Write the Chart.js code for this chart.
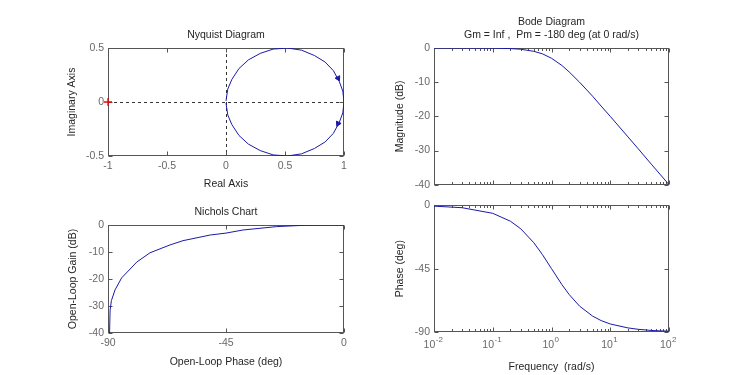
<!DOCTYPE html>
<html>
<head>
<meta charset="utf-8">
<script src="https://cdn.jsdelivr.net/npm/chart.js@4.4.0/dist/chart.umd.min.js"></script>
<style>
  body { margin: 0; background: #fff; width: 740px; height: 375px; position: relative; overflow: hidden; }
  canvas { position: absolute; }
</style>
</head>
<body>
<canvas id="nyquist" width="452" height="195" style="left:0;top:0"></canvas>
<canvas id="nichols" width="452" height="180" style="left:0;top:195px"></canvas>
<canvas id="bodeMag" width="359" height="195" style="left:372px;top:0"></canvas>
<canvas id="bodePhase" width="359" height="180" style="left:372px;top:195px"></canvas>
<script>
// Nyquist, positive frequencies (lower half) and mirror branch (upper half)
const nyqPosRe = [1.00, 0.99, 0.96, 0.91, 0.84, 0.75, 0.64, 0.52, 0.40, 0.29, 0.19, 0.11, 0.05, 0.015, 0.00];
const nyqPosIm = [0.00, -0.10, -0.19, -0.29, -0.37, -0.43, -0.48, -0.50, -0.49, -0.45, -0.39, -0.31, -0.21, -0.12, -0.01];
const nyqNegRe = [0.00, 0.015, 0.05, 0.11, 0.19, 0.29, 0.40, 0.52, 0.64, 0.75, 0.84, 0.91, 0.96, 0.99, 1.00];
const nyqNegIm = [0.01, 0.12, 0.21, 0.31, 0.39, 0.45, 0.49, 0.50, 0.48, 0.43, 0.37, 0.29, 0.19, 0.10, 0.00];
const nyqArrowRe = [0.95, 0.95];
const nyqArrowIm = [0.22, -0.20];
const nyqArrowDir = [152, 206];
const critRe = [-1];
const critIm = [0];
const nyqXTicks = [-1, -0.5, 0, 0.5, 1];
const nyqYTicks = [-0.5, 0, 0.5];

// Nichols (phase deg, gain dB)
const nicPhase = [-89.4, -89.2, -88.7, -87.3, -84.8, -79, -74, -66.4, -61.4, -51, -45, -38.5, -25.7, -15, -8, 0];
const nicGain = [-40, -31.5, -28, -24, -19.6, -13.7, -10.3, -7.4, -5.8, -3.7, -3, -1.85, -0.6, -0.1, 0, 0];
const nicXTicks = [-90, -45, 0];
const nicYTicks = [-40, -30, -20, -10, 0];

// Bode
const freq = [0.01, 0.03, 0.1, 0.2, 0.3, 0.5, 0.7, 1, 1.5, 2, 3, 5, 7, 10, 20, 30, 50, 70, 100];
const magDb = [0, -0.004, -0.04, -0.17, -0.37, -0.97, -1.7, -3.0, -5.1, -7.0, -10.0, -14.1, -17.0, -20.0, -26.0, -29.5, -34.0, -36.9, -40.0];
const phaseDeg = [-0.6, -1.7, -5.7, -11.3, -16.7, -26.6, -35.0, -45.0, -56.3, -63.4, -71.6, -78.7, -81.9, -84.3, -87.1, -88.1, -88.9, -89.2, -89.4];
const magTicks = [-40, -30, -20, -10, 0];
const phaseTicks = [-90, -45, 0];
const freqExps = [-2, -1, 0, 1, 2];

const FONT = "'Liberation Sans', Arial, Helvetica, sans-serif";
const tickColor = '#686868';
const textColor = '#262626';
const axisColor = '#555555';
const curveColor = '#1a1aa8';

const pts = (xs, ys) => xs.map((v, i) => ({x: v, y: ys[i]}));

// box round the axes, inward ticks on all four sides, zero lines and 10^n labels
const frame = {
  id: 'frame',
  beforeDatasetsDraw(chart, args, opts) {
    const {ctx, chartArea: a, scales: {x, y}} = chart;
    ctx.save();
    ctx.lineWidth = 1;
    if (opts.zeroLines) {
      const px = Math.round(x.getPixelForValue(0)) + 0.5;
      const py = Math.round(y.getPixelForValue(0)) + 0.5;
      ctx.strokeStyle = '#333';
      ctx.setLineDash([3, 3]);
      ctx.beginPath();
      ctx.moveTo(a.left, py); ctx.lineTo(a.right, py);
      ctx.moveTo(px, a.top); ctx.lineTo(px, a.bottom);
      ctx.stroke();
      ctx.setLineDash([]);
    }
    const l = Math.round(a.left) + 0.5, r = Math.round(a.right) - 0.5;
    const t = Math.round(a.top) + 0.5, b = Math.round(a.bottom) - 0.5;
    ctx.strokeStyle = axisColor;
    ctx.strokeRect(l, t, r - l, b - t);
    ctx.beginPath();
    x.ticks.forEach(tk => {
      let len = 4;
      if (x.type === 'logarithmic') {
        const e = Math.floor(Math.log10(tk.value) + 1e-9);
        const m = tk.value / Math.pow(10, e);
        if (Math.abs(m - Math.round(m)) > 1e-6) return;
        len = Math.round(m) === 1 ? 4 : 2.5;
      }
      const p = Math.round(x.getPixelForValue(tk.value)) + 0.5;
      ctx.moveTo(p, b); ctx.lineTo(p, b - len);
      ctx.moveTo(p, t); ctx.lineTo(p, t + len);
    });
    y.ticks.forEach(tk => {
      const p = Math.round(y.getPixelForValue(tk.value)) + 0.5;
      ctx.moveTo(l, p); ctx.lineTo(l + 4, p);
      ctx.moveTo(r, p); ctx.lineTo(r - 4, p);
    });
    ctx.stroke();
    if (opts.powerLabels) {
      ctx.fillStyle = tickColor;
      ctx.textBaseline = 'alphabetic';
      ctx.textAlign = 'left';
      opts.powerLabels.forEach(e => {
        const p = x.getPixelForValue(Math.pow(10, e));
        ctx.font = '10.5px ' + FONT;
        const w1 = ctx.measureText('10').width;
        ctx.font = '8px ' + FONT;
        const w2 = ctx.measureText(String(e)).width;
        const s = p - (w1 + w2) / 2 - 1;
        ctx.font = '10.5px ' + FONT;
        ctx.fillText('10', s, a.bottom + 16);
        ctx.font = '8px ' + FONT;
        ctx.fillText(String(e), s + w1 + 0.5, a.bottom + 10);
      });
    }
    ctx.restore();
  }
};

function linAxis(pos, min, max, ticks, size, title, titlePad, showLabels) {
  return {
    type: 'linear', position: pos, min: min, max: max,
    afterBuildTicks: s => { s.ticks = ticks.map(v => ({value: v})); },
    afterFit: s => { if (pos === 'left') s.width = size; else s.height = size; },
    grid: {display: false, drawTicks: false},
    border: {display: false},
    ticks: {
      display: showLabels !== false, autoSkip: false, maxRotation: 0, padding: 4,
      color: tickColor, font: {family: FONT, size: 10.5}, callback: v => String(v)
    },
    title: {display: !!title, text: title, color: textColor, font: {family: FONT, size: 10.5}, padding: titlePad || 0}
  };
}

function logAxis(size, title, titlePad) {
  return {
    type: 'logarithmic', position: 'bottom', min: 0.01, max: 100,
    afterFit: s => { s.height = size; },
    grid: {display: false, drawTicks: false},
    border: {display: false},
    ticks: {display: false},
    title: {display: !!title, text: title, color: textColor, font: {family: FONT, size: 10.5}, padding: titlePad || 0}
  };
}

// empty right-hand axis that only reserves room, so the title stays centred on the plot
function spacer(w) {
  return {
    type: 'linear', position: 'right', display: true,
    afterFit: s => { s.width = w; },
    grid: {display: false, drawTicks: false},
    border: {display: false},
    ticks: {display: false}
  };
}

function titleOpts(text, top, bottom, lh) {
  return {display: true, text: text, color: textColor,
    font: {family: FONT, size: 10.5, weight: 'normal', lineHeight: lh || 1.2},
    padding: {top: top, bottom: bottom}};
}

const common = {
  responsive: false, animation: false, devicePixelRatio: 1, events: []
};

new Chart(document.getElementById('nyquist'), {
  type: 'scatter',
  data: {datasets: [
    {data: pts(nyqPosRe, nyqPosIm), showLine: true, borderColor: curveColor, borderWidth: 1, pointRadius: 0},
    {data: pts(nyqNegRe, nyqNegIm), showLine: true, borderColor: curveColor, borderWidth: 1, pointRadius: 0},
    {data: pts(nyqArrowRe, nyqArrowIm), pointStyle: 'triangle', pointRotation: nyqArrowDir, pointRadius: 3,
      backgroundColor: curveColor, borderColor: curveColor, borderWidth: 1},
    {data: pts(critRe, critIm), pointStyle: 'cross', pointRadius: 4, borderColor: '#ee0000', borderWidth: 1.3, clip: false}
  ]},
  options: Object.assign({}, common, {
    layout: {padding: 0},
    plugins: {legend: {display: false}, tooltip: {enabled: false},
      title: titleOpts('Nyquist Diagram', 29, 6.4), frame: {zeroLines: true}},
    scales: {
      x: linAxis('bottom', -1, 1, nyqXTicks, 39, 'Real Axis', {bottom: 4.7}),
      y: linAxis('left', -0.5, 0.5, nyqYTicks, 108, 'Imaginary Axis', {top: 65.7}),
      pad: spacer(108)
    }
  }),
  plugins: [frame]
});

new Chart(document.getElementById('nichols'), {
  type: 'scatter',
  data: {datasets: [
    {data: pts(nicPhase, nicGain), showLine: true, borderColor: curveColor, borderWidth: 1, pointRadius: 0}
  ]},
  options: Object.assign({}, common, {
    layout: {padding: 0},
    plugins: {legend: {display: false}, tooltip: {enabled: false},
      title: titleOpts('Nichols Chart', 11, 6.4), frame: {}},
    scales: {
      x: linAxis('bottom', -90, 0, nicXTicks, 42, 'Open-Loop Phase (deg)', {bottom: 6.7}),
      y: linAxis('left', -40, 0, nicYTicks, 108, 'Open-Loop Gain (dB)', {top: 66.7}),
      pad: spacer(108)
    }
  }),
  plugins: [frame]
});

new Chart(document.getElementById('bodeMag'), {
  type: 'scatter',
  data: {datasets: [
    {data: pts(freq, magDb), showLine: true, borderColor: curveColor, borderWidth: 1, pointRadius: 0}
  ]},
  options: Object.assign({}, common, {
    layout: {padding: {left: 0, right: 0, bottom: 3, top: 0}},
    plugins: {legend: {display: false}, tooltip: {enabled: false},
      title: titleOpts(['Bode Diagram', 'Gm = Inf ,  Pm = -180 deg (at 0 rad/s)'], 15.25, 5.75, 13.5 / 10.5), frame: {}},
    scales: {
      x: logAxis(0),
      y: linAxis('left', -40, 0, magTicks, 62, 'Magnitude (dB)', {top: 21.7}),
      pad: spacer(62)
    }
  }),
  plugins: [frame]
});

new Chart(document.getElementById('bodePhase'), {
  type: 'scatter',
  data: {datasets: [
    {data: pts(freq, phaseDeg), showLine: true, borderColor: curveColor, borderWidth: 1, pointRadius: 0}
  ]},
  options: Object.assign({}, common, {
    layout: {padding: {left: 0, right: 0, bottom: 0, top: 9}},
    plugins: {legend: {display: false}, tooltip: {enabled: false},
      title: {display: false}, frame: {powerLabels: freqExps}},
    scales: {
      x: logAxis(43, 'Frequency  (rad/s)', {bottom: 1.4}),
      y: linAxis('left', -90, 0, phaseTicks, 62, 'Phase (deg)', {top: 21.7}),
      pad: spacer(62)
    }
  }),
  plugins: [frame]
});
</script>
</body>
</html>
